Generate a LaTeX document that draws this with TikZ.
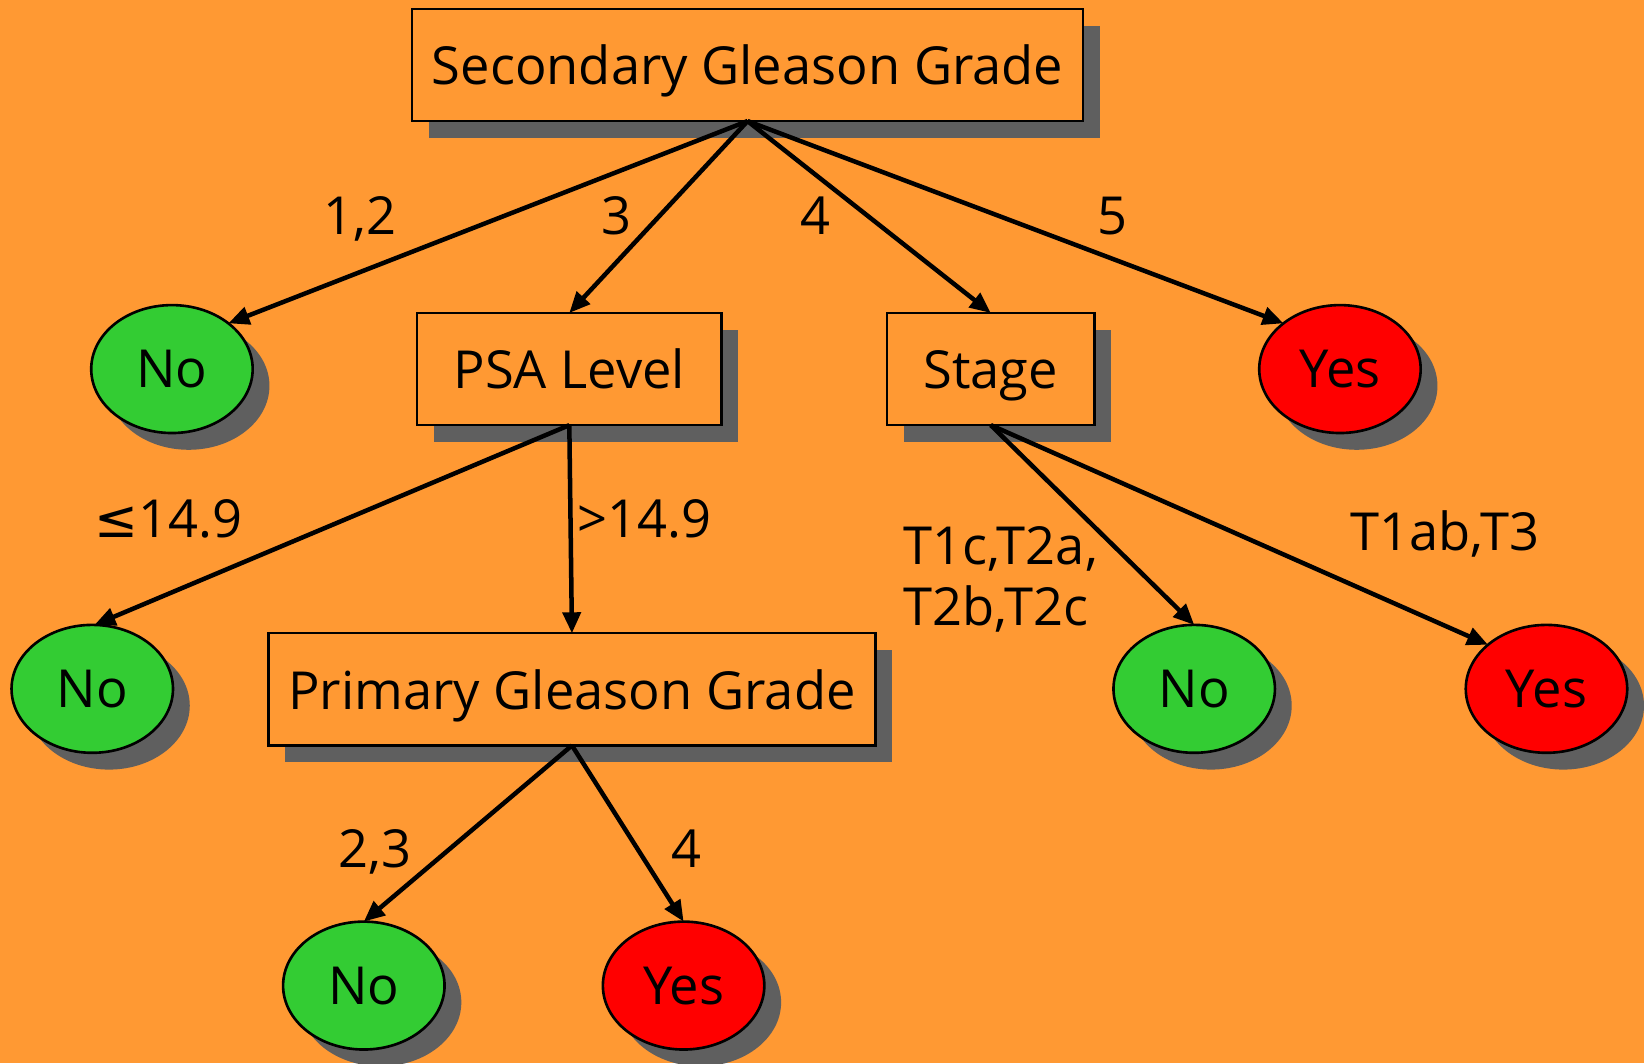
\documentclass[tikz,border=0pt]{standalone}
\usepackage{fontspec}
\setmainfont{Open Sans}
\newfontfamily\symfont{DejaVu Sans}
\usetikzlibrary{shapes.geometric,shadows,arrows.meta}
\definecolor{bgorange}{HTML}{FF9933}
\definecolor{leafgreen}{HTML}{33CC33}
\definecolor{leafred}{HTML}{FF0000}
\definecolor{shade}{HTML}{5F5F5F}
\tikzset{
  every node/.style={font=\fontsize{50}{60}\selectfont, inner sep=0pt, outer sep=0pt},
  dshadow/.style={drop shadow={shadow xshift=16pt, shadow yshift=-16pt, fill=shade, opacity=1}},
  testbox/.style={rectangle, draw=black, line width=2.2pt, fill=bgorange, minimum height=107pt, text depth=0pt, dshadow},
  leaf/.style={ellipse, draw=black, line width=2.5pt, minimum width=154pt, minimum height=122pt, dshadow},
  noleaf/.style={leaf, fill=leafgreen},
  yesleaf/.style={leaf, fill=leafred},
  edge/.style={line width=4.3pt, -{Triangle[length=20pt, width=17pt]}},
  lbl/.style={anchor=base}
}
\begin{document}
\begin{tikzpicture}[x=1pt, y=-1pt]
  % background
  \fill[bgorange] (0,0) rectangle (1568,1014);
  \useasboundingbox (0,0) rectangle (1568,1014);

  % decision nodes
  \node[testbox, minimum width=640pt] (root) at (713,62) {Secondary Gleason Grade};
  \node[testbox, minimum width=290pt] (psa) at (543,352) {PSA Level};
  \node[testbox, minimum width=198pt] (stage) at (945,352) {Stage};
  \node[testbox, minimum width=579pt] (primary) at (545.5,657.5) {Primary Gleason Grade};

  % leaves
  \node[noleaf] (no1) at (164,352) {No};
  \node[yesleaf] (yes1) at (1278,352) {Yes};
  \node[noleaf] (no2) at (88,657) {No};
  \node[noleaf] (no3) at (1139,657) {No};
  \node[yesleaf] (yes2) at (1475,657) {Yes};
  \node[noleaf] (no4) at (347,940) {No};
  \node[yesleaf] (yes3) at (652,940) {Yes};

  % branches
  \draw[edge] (root.south) -- (no1.39);
  \draw[edge] (root.south) -- (psa.north);
  \draw[edge] (root.south) -- (stage.north);
  \draw[edge] (root.south) -- (yes1.141);
  \draw[edge] (psa.south) -- (no2.88);
  \draw[edge] (psa.south) -- (primary.north);
  \draw[edge] (stage.south) -- (no3.north);
  \draw[edge] (stage.south) -- (yes2.143);
  \draw[edge] (primary.south) -- (no4.north);
  \draw[edge] (primary.south) -- (yes3.north);

  % branch labels
  \node[lbl] (l12) at (343,224) {1,2};
  \node[lbl] (l3) at (588,224) {3};
  \node[lbl] (l4) at (778,224) {4};
  \node[lbl] (l5) at (1061,224) {5};
  \node[lbl] (lle) at (161,513) {{\symfont ≤}14.9};
  \node[lbl] (lgt) at (615,513) {>14.9};
  \node[anchor=base west] (lt1) at (862,538) {T1c,T2a,};
  \node[anchor=base west] (lt2) at (862,597) {T2b,T2c};
  \node[lbl] (lt3) at (1378,525) {T1ab,T3};
  \node[lbl] (l23) at (358,827) {2,3};
  \node[lbl] (l4b) at (655,827) {4};
\end{tikzpicture}
\end{document}
